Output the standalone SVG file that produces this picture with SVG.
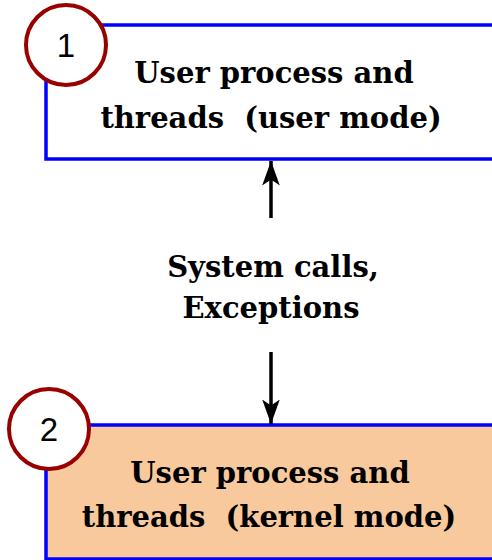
<svg xmlns="http://www.w3.org/2000/svg" width="492" height="560" viewBox="0 0 492 560">
<style>
.box{stroke:#0000ff;stroke-width:3.5}
.lbl{font-family:"DejaVu Serif",serif;font-size:29px;font-weight:bold;fill:#000;text-anchor:middle;white-space:pre}
.badge{fill:#fff;stroke:#990000;stroke-width:4}
.num{font-family:"Liberation Sans",Arial,sans-serif;font-size:33px;fill:#000;text-anchor:middle}
.conn{stroke:#000;stroke-width:3.5;fill:none}
</style>
<defs>
<marker id="ah" viewBox="0 0 25 18" refX="25" refY="9" markerWidth="7" markerHeight="5.2" orient="auto" markerUnits="strokeWidth">
<path d="M0,0 L25,9 L0,18 L6,9 z" fill="#000"/>
</marker>
</defs>
<g id="node1">
<rect class="box" x="46" y="25" width="460" height="134" fill="#ffffff"/>
<text class="lbl" x="274" y="83">User process and</text>
<text class="lbl" x="271" y="128" xml:space="preserve">threads  (user mode)</text>
</g>
<g id="badge1">
<circle class="badge" cx="66" cy="45" r="40"/>
<text class="num" x="66" y="57">1</text>
</g>
<g id="node2">
<rect class="box" x="46" y="425" width="460" height="134" fill="#f8c99c"/>
<text class="lbl" x="270" y="483">User process and</text>
<text class="lbl" x="269" y="527" xml:space="preserve">threads  (kernel mode)</text>
</g>
<g id="badge2">
<circle class="badge" cx="49" cy="429" r="40"/>
<text class="num" x="49" y="441">2</text>
</g>
<g id="connectors">
<line class="conn" x1="271" y1="218" x2="271" y2="161" marker-end="url(#ah)"/>
<line class="conn" x1="271" y1="352" x2="271" y2="424" marker-end="url(#ah)"/>
<text class="lbl" x="273" y="277">System calls,</text>
<text class="lbl" x="271" y="318">Exceptions</text>
</g>
</svg>
